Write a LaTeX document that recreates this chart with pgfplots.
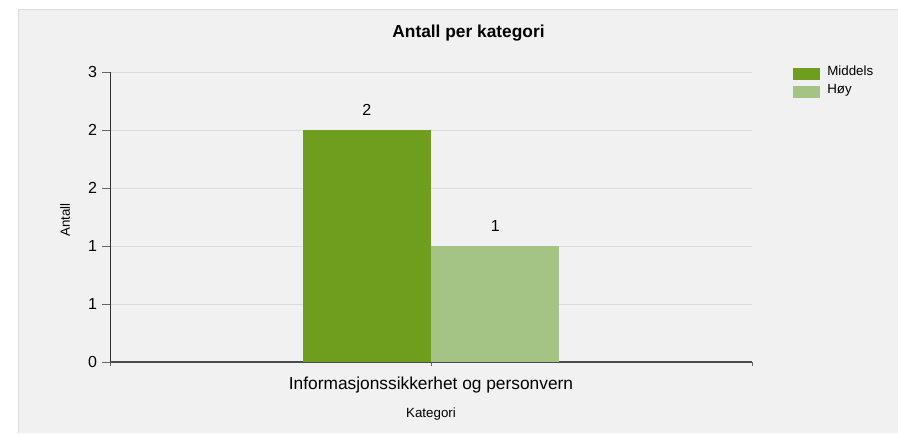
\documentclass[border=0pt]{standalone}
\usepackage{fontspec}
\setmainfont{Liberation Sans}
\usepackage{pgfplots}
\pgfplotsset{compat=1.18}
\definecolor{bg}{HTML}{F1F1F1}
\definecolor{panelborder}{HTML}{DDDDDD}
\definecolor{gridc}{HTML}{DCDCDC}
\definecolor{mid}{HTML}{6F9E1E}
\definecolor{hoy}{HTML}{A3C484}
\begin{document}
\begin{tikzpicture}[x=0.75pt,y=0.75pt]
\useasboundingbox (0,0) rectangle (898,433);
\fill[white] (0,0) rectangle (898,433);
\fill[bg] (18,0) rectangle (898,423);
\draw[panelborder, line width=0.75pt] (18,0) -- (18,423) -- (898,423);
\node[font=\bfseries\fontsize{13}{15}\selectfont] at (468.5,400) {Antall per kategori};
\begin{axis}[
  at={(82.5pt,53.25pt)}, anchor=south west, scale only axis,
  width=481.5pt, height=217.5pt,
  xmin=-2.5, xmax=2.5, ymin=0, ymax=2.5,
  ybar, bar width=1,
  axis x line*=bottom, axis y line*=left,
  x axis line style={-, draw=black!70, line width=1.5pt},
  y axis line style={-, draw=black!80, line width=0.75pt},
  ytick={0,0.5,1,1.5,2,2.5},
  yticklabels={0,1,1,2,2,3},
  xtick={0},
  xticklabels={Informasjonssikkerhet og personvern},
  extra x ticks={-2.5,2.5},
  extra x tick labels={},
  tick align=outside,
  major tick length=6pt,
  tick style={draw=black!60, line width=0.6pt},
  xtick style={/pgfplots/major tick length=3pt},
  extra x tick style={xtick style={/pgfplots/major tick length=3pt}},
  ymajorgrids, grid style={gridc, line width=0.75pt},
  /pgf/number format/assume math mode=true,
  yticklabel style={font=\fontsize{12}{14}\selectfont, inner sep=0pt, xshift=-3.5pt},
  xticklabel style={font=\fontsize{13}{15}\selectfont, inner sep=0pt, anchor=base, yshift=-14.5pt},
  ylabel={Antall},
  ylabel style={font=\fontsize{10}{12}\selectfont, at={(axis description cs:-0.0701,0.4897)}, anchor=center, rotate=0},
  xlabel={Kategori},
  xlabel style={font=\fontsize{10}{12}\selectfont, at={(axis description cs:0.5,-0.1897)}, anchor=base},
  nodes near coords,
  every node near coord/.append style={font=\fontsize{12}{14}\selectfont, text=black, inner sep=0pt, anchor=south, yshift=10.5pt},
  legend image code/.code={\fill[#1] (0pt,-4.5pt) rectangle (20.25pt,4.5pt);},
  legend style={draw=none, fill=none, at={(axis description cs:1.0639,1.0241)}, anchor=north west,
    inner sep=0pt, font=\fontsize{10}{12}\selectfont, row sep=0pt,
    nodes={inner sep=0pt, text height=8pt, text depth=5.5pt},
    /tikz/every odd column/.append style={column sep=5.25pt}},
  legend cell align=left,
]
\addplot[fill=mid, draw=none, bar shift=-0.5] coordinates {(0,2)};
\addplot[fill=hoy, draw=none, bar shift=0.5] coordinates {(0,1)};
\legend{Middels,Høy}
\end{axis}
\end{tikzpicture}
\end{document}
